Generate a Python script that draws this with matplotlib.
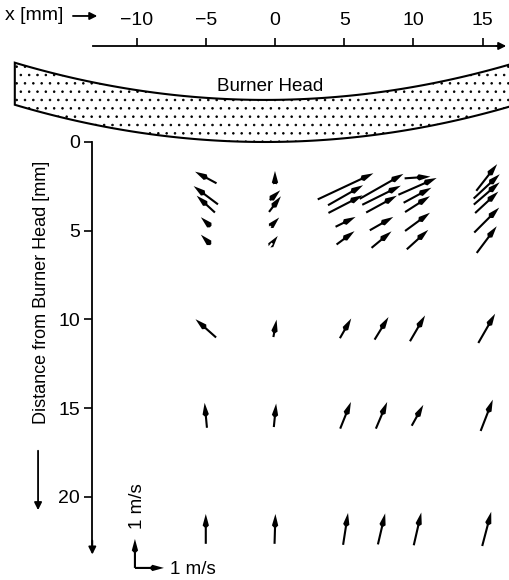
import numpy as np
import matplotlib.pyplot as plt
from matplotlib.patches import Polygon

plt.rcParams['font.family'] = ['Liberation Sans', 'DejaVu Sans']
plt.rcParams['hatch.linewidth'] = 0.6

# measured velocity field, one list per radial position
# z = distance from burner head [mm], u = radial, w = axial (towards head) velocity [m/s]
col_x = [-5.0, 0.0, 5.1, 7.7, 10.3, 15.3]
col_z = [
    [2.0, 3.0, 3.5, 4.5, 5.5, 10.5, 15.4, 21.8],
    [2.0, 3.0, 3.5, 4.5, 5.5, 10.5, 15.4, 21.8],
    [2.5, 3.0, 3.5, 4.5, 5.4, 10.5, 15.4, 21.8],
    [2.5, 3.0, 3.5, 4.6, 5.5, 10.5, 15.4, 21.8],
    [2.0, 2.5, 3.0, 3.5, 4.5, 5.5, 10.5, 15.4, 21.8],
    [2.0, 2.5, 2.9, 3.4, 4.4, 5.5, 10.5, 15.4, 21.8],
]
col_u = [
    [-0.74, -0.84, -0.63, -0.34, -0.34, -0.71, -0.08, 0.00],
    [0.00, 0.36, 0.41, 0.29, 0.19, 0.11, 0.08, 0.03],
    [1.92, 1.21, 1.18, 0.69, 0.62, 0.39, 0.37, 0.17],
    [1.51, 1.33, 1.06, 0.81, 0.69, 0.48, 0.39, 0.25],
    [0.89, 1.32, 0.96, 0.86, 0.86, 0.74, 0.52, 0.40, 0.26],
    [0.72, 0.90, 0.89, 0.80, 0.86, 0.69, 0.58, 0.42, 0.31],
]
col_w = [
    [0.40, 0.63, 0.58, 0.32, 0.34, 0.63, 0.86, 1.03],
    [0.45, 0.34, 0.54, 0.30, 0.25, 0.60, 0.81, 1.03],
    [0.90, 0.69, 0.61, 0.34, 0.46, 0.68, 0.92, 1.10],
    [0.86, 0.66, 0.58, 0.46, 0.57, 0.78, 0.92, 1.07],
    [0.06, 0.58, 0.52, 0.55, 0.63, 0.67, 0.89, 0.72, 1.13],
    [0.92, 0.84, 0.77, 0.74, 0.86, 0.92, 1.01, 1.08, 1.18],
]

x_ticks = [-10, -5, 0, 5, 10, 15]
z_ticks = [0, 5, 10, 15, 20]

# burner head outline (curved plate, bottom touches z=0)
head_thick = 2.37
head_curv = 0.0064
head_x0 = -0.7

FS = 13.5

fig = plt.figure(figsize=(5.09, 5.80), dpi=100)
ax = fig.add_axes([0, 0, 1, 1])
ax.set_xlim(-19.87, 16.91)
ax.set_ylim(24.68, -8.0)

# axes: x on top, distance pointing down
x_axis_z = -5.41
z_axis_x = -13.2
for s in ['right', 'bottom']:
    ax.spines[s].set_visible(False)
ax.spines['top'].set_position(('data', x_axis_z))
ax.spines['top'].set_bounds(z_axis_x + 0.05, 16.3)
ax.spines['left'].set_position(('data', z_axis_x))
ax.spines['left'].set_bounds(0, 22.8)
for s in ['top', 'left']:
    ax.spines[s].set_linewidth(1.3)
ax.xaxis.set_ticks_position('top')
ax.set_xticks(x_ticks)
ax.set_yticks(z_ticks)
ax.tick_params(axis='x', length=6, width=1.2, pad=6, labelsize=14)
ax.tick_params(axis='y', length=6, width=1.2, pad=3, labelsize=14)

arrow_kw = dict(arrowstyle='-|>', color='black', lw=1.3, mutation_scale=11)
ax.annotate('', xy=(16.91, x_axis_z), xytext=(15.8, x_axis_z), arrowprops=arrow_kw)
ax.annotate('', xy=(z_axis_x, 23.4), xytext=(z_axis_x, 22.3), arrowprops=arrow_kw)

ax.text(-19.5, -7.1, 'x [mm]', fontsize=14, ha='left', va='center')
ax.annotate('', xy=(-12.64, -7.1), xytext=(-14.8, -7.1), arrowprops=arrow_kw)

ax.text(-16.9, 8.5, 'Distance from Burner Head [mm]', fontsize=13,
        rotation=90, ha='center', va='center')
ax.annotate('', xy=(-17.12, 20.9), xytext=(-17.12, 17.24), arrowprops=arrow_kw)

# burner head
xs = np.linspace(-18.8, 17.5, 200)
bottom = -head_curv * (xs - head_x0) ** 2
top = bottom - head_thick
verts = np.column_stack([np.r_[xs, xs[::-1]], np.r_[bottom, top[::-1]]])
ax.add_patch(Polygon(verts, closed=True, facecolor='white', edgecolor='black',
                     hatch='..', lw=1.5))
ax.text(-0.36, -3.1, 'Burner Head', fontsize=FS, ha='center', va='center')

# velocity vectors, 1 m/s = 29 px
X, Z, U, W = [], [], [], []
for x, zs, us, ws in zip(col_x, col_z, col_u, col_w):
    X += [x] * len(zs)
    Z += zs
    U += us
    W += ws
q_kw = dict(angles='uv', scale_units='inches', scale=100 / 29, units='inches',
            width=0.021, headwidth=3.0, headlength=5.5, headaxislength=6.5,
            minshaft=0.5, color='black')
ax.quiver(X, Z, U, W, pivot='middle', **q_kw)

# reference vectors
ref_x, ref_z = -10.12, 24.0
ax.quiver([ref_x, ref_x], [ref_z, ref_z], [0, 1], [1, 0], pivot='tail', **q_kw)
ax.text(-9.97, 20.5, '1 m/s', fontsize=FS, rotation=90, ha='center', va='center')
ax.text(-7.59, 24.1, '1 m/s', fontsize=FS, ha='left', va='center')

fig.savefig('out.png', dpi=100)
